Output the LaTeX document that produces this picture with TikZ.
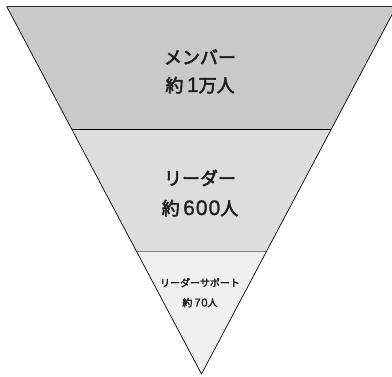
\documentclass[tikz,border=0pt]{standalone}
\usepackage{fontspec}
\usetikzlibrary{calc}
\newfontfamily\jp[FakeBold=3]{Noto Sans CJK JP}
\newfontfamily\dig[LetterSpace=5,FakeBold=1]{Liberation Sans}
\newcommand{\bignum}[1]{{\dig\fontsize{21}{22}\selectfont\,#1}}
\newcommand{\smallnum}[1]{{\dig\fontsize{11.5}{13}\selectfont\,#1}}
\definecolor{bandA}{RGB}{200,201,200}
\definecolor{bandB}{RGB}{220,221,220}
\definecolor{bandC}{RGB}{239,239,239}
\begin{document}
\begin{tikzpicture}[x=1pt,y=1pt,
  lbl/.style={font=\jp\fontsize{18}{22}\selectfont, align=center, text=black!88, inner sep=0pt, anchor=base},
  slbl/.style={font=\jp\fontsize{10}{13}\selectfont, align=center, text=black!88, inner sep=0pt, anchor=base}]
\useasboundingbox (0,0) rectangle (392,376);
\coordinate (TL) at (6.7,369.5);
\coordinate (TR) at (396.3,369.5);
\coordinate (AP) at (201.5,2);
\coordinate (L1) at ($(TL)!0.3333!(AP)$);
\coordinate (R1) at ($(TR)!0.3333!(AP)$);
\coordinate (L2) at ($(TL)!0.6655!(AP)$);
\coordinate (R2) at ($(TR)!0.6655!(AP)$);
\fill[bandA] (TL) -- (TR) -- (R1) -- (L1) -- cycle;
\fill[bandB] (L1) -- (R1) -- (R2) -- (L2) -- cycle;
\fill[bandC] (L2) -- (R2) -- (AP) -- cycle;
\draw[black!80, line width=0.9pt] (TL) -- (TR);
\draw[black, line width=0.9pt] (L1) -- (R1);
\draw[black!50, line width=0.9pt] (L2) -- (R2);
\draw[black, line width=0.7pt] (TL) -- (AP) -- (TR);
\node[lbl] (m1) at (200,312) {メンバー};
\node[lbl] (m2) at (200,284) {約\bignum{1}万人};
\node[lbl] (r1) at (200,191) {リーダー};
\node[lbl] (r2) at (200,161) {約\bignum{600}人};
\node[slbl] (s1) at (200,89.5) {リーダーサポート};
\node[slbl] (s2) at (200,69.5) {約\smallnum{70}人};
\end{tikzpicture}
\end{document}
